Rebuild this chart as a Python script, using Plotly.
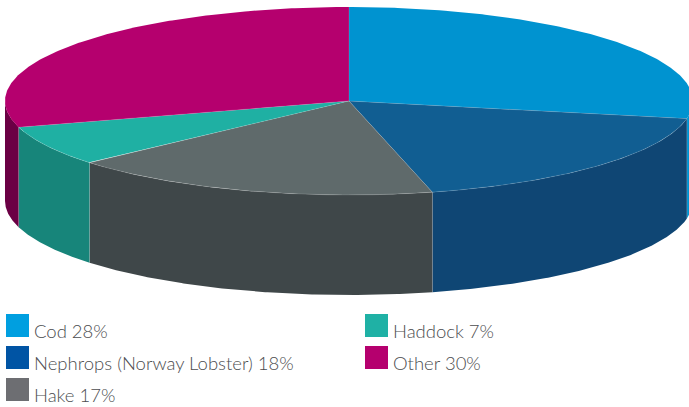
import numpy as np
import plotly.graph_objects as go

# Data
names = ["Cod", "Nephrops (Norway Lobster)", "Hake", "Haddock", "Other"]
label_pct = [28, 18, 17, 7, 30]
slice_share = [28.0, 18.1, 17.5, 6.9, 29.5]  # as read from the drawn slice boundaries
top_colors = ["#0093d0", "#115e92", "#5f6a6b", "#1fb0a3", "#b5006e"]
wall_colors = ["#0093d0", "#0f4674", "#3f4749", "#17857a", "#6b0044"]
legend_colors = ["#009fe0", "#0054a4", "#6d6e72", "#1fb1a5", "#b5006e"]

W, H = 689, 407
CX, CY, RX, RY, DEPTH = 349.0, 101.0, 344.0, 94.0, 100.0
SEAM = "rgba(255,255,255,0.2)"


def rim(deg, dy=0.0):
    a = np.radians(deg)
    return CX + RX * np.sin(a), CY - RY * np.cos(a) + dy


def poly(xs, ys, color):
    return go.Scatter(x=xs, y=ys, mode="lines", fill="toself", fillcolor=color,
                      line=dict(width=0, color=color), hoverinfo="skip", showlegend=False)


def seam(xs, ys):
    return go.Scatter(x=xs, y=ys, mode="lines", line=dict(width=0.7, color=SEAM),
                      hoverinfo="skip", showlegend=False)


bounds = np.concatenate([[0.0], np.cumsum(slice_share)])
bounds = bounds / bounds[-1] * 360.0

fig = go.Figure()

# Side walls: only the front half of the drum is visible
for i, color in enumerate(wall_colors):
    a0, a1 = max(bounds[i], 90.0), min(bounds[i + 1], 270.0)
    if a1 <= a0:
        continue
    t = np.linspace(a0, a1, 160)
    x1, y1 = rim(t)
    x2, y2 = rim(t[::-1], DEPTH)
    fig.add_trace(poly(np.r_[x1, x2], np.r_[y1, y2], color))

# Top faces
for i, color in enumerate(top_colors):
    t = np.linspace(bounds[i], bounds[i + 1], 200)
    x, y = rim(t)
    fig.add_trace(poly(np.r_[CX, x, CX], np.r_[CY, y, CY], color))

# Light seams: radial edges, front rim, vertical edges
for b in bounds[:-1]:
    x, y = rim(b)
    fig.add_trace(seam([CX, x], [CY, y]))
    if 90 <= b <= 270:
        fig.add_trace(seam([x, x], [y, y + DEPTH]))
t = np.linspace(bounds[1], bounds[4], 400)
fig.add_trace(seam(*rim(t)))

# Legend
col_x = [6, 6, 6, 365, 365]
row_y = [314, 346, 378, 314, 346]
shapes = []
annotations = []
for n, p, c, sx, sy in zip(names, label_pct, legend_colors, col_x, row_y):
    shapes.append(dict(type="rect", xref="x", yref="y", x0=sx, x1=sx + 23, y0=sy, y1=sy + 23,
                       fillcolor=c, line=dict(width=0), layer="above"))
    annotations.append(dict(x=sx + 26, y=sy + 16.5, xref="x", yref="y", text=f"{n} {p}%",
                            showarrow=False, xanchor="left", yanchor="middle",
                            font=dict(family="Lato", size=18.5, color="#4c4d4f", weight=300)))

fig.update_layout(
    width=W, height=H, autosize=False,
    margin=dict(l=0, r=0, t=0, b=0),
    paper_bgcolor="white", plot_bgcolor="white",
    xaxis=dict(range=[0, W], visible=False, fixedrange=True),
    yaxis=dict(range=[H, 0], visible=False, fixedrange=True),
    shapes=shapes, annotations=annotations, showlegend=False,
)
fig.write_html("out.html", config=dict(displayModeBar=False),
               post_script="document.body.style.margin='0';document.body.style.overflow='hidden';")
